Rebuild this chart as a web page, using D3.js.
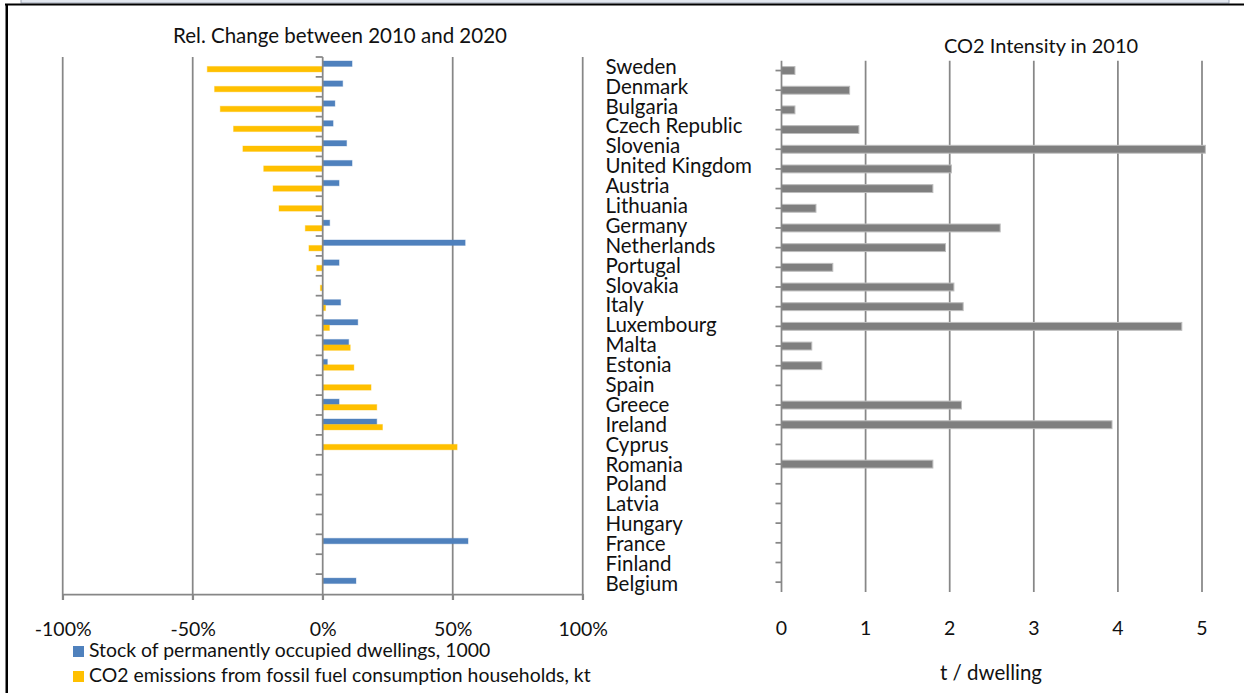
<!DOCTYPE html>
<html>
<head>
<meta charset="utf-8">
<script src="https://cdn.jsdelivr.net/npm/d3@7"></script>
<style>
  html, body { margin: 0; padding: 0; background: #fff; }
  svg { display: block; }
  text { font-family: Lato, "Open Sans", sans-serif; fill: #111; }
</style>
</head>
<body>
<svg id="chart" width="1244" height="693"></svg>
<script>
// Member states, in the order shown on both panels
const countries = [
  "Sweden", "Denmark", "Bulgaria", "Czech Republic", "Slovenia", "United Kingdom",
  "Austria", "Lithuania", "Germany", "Netherlands", "Portugal", "Slovakia", "Italy",
  "Luxembourg", "Malta", "Estonia", "Spain", "Greece", "Ireland", "Cyprus", "Romania",
  "Poland", "Latvia", "Hungary", "France", "Finland", "Belgium"
];

// Relative change 2010 -> 2020, in percent (null = no data)
const stockChange = [
  11.3, 7.7, 4.7, 4.0, 9.2, 11.3, 6.3, null, 2.7, 54.8, 6.3, null, 6.9,
  13.5, 10.0, 1.8, null, 6.3, 20.8, null, null, null, null, null, 55.9, null, 12.8
];
const co2Change = [
  -44.4, -41.6, -39.4, -34.3, -30.7, -22.7, -19.1, -16.8, -6.7, -5.3, -2.3, -0.9, 1.1,
  2.6, 10.6, 12.0, 18.6, 20.8, 23.0, 51.7, null, null, null, null, null, null, null
];

// CO2 intensity in 2010, t per dwelling (null = no data)
const intensity2010 = [
  0.16, 0.81, 0.16, 0.92, 5.04, 2.02, 1.80, 0.41, 2.60, 1.95, 0.61, 2.05, 2.16,
  4.76, 0.36, 0.48, null, 2.14, 3.93, null, 1.80, null, null, null, null, null, null
];

const changeTicks = [-100, -50, 0, 50, 100];
const intensityTicks = [0, 1, 2, 3, 4, 5];

const seriesNames = [
  "Stock of permanently occupied dwellings, 1000",
  "CO2 emissions from fossil fuel consumption households, kt"
];
const seriesColors = ["#4F81BD", "#FFC000"];
const gridColor = "#878787";
const barGray = "#7F7F7F";

const svg = d3.select("#chart");

// ---- frame ----
svg.append("rect").attr("x", 21).attr("y", -4).attr("width", 1208).attr("height", 7)
  .attr("fill", "#e2e7ef").attr("stroke", "#9aa3b3").attr("stroke-width", 1);
svg.append("line").attr("x1", 5).attr("x2", 1244).attr("y1", 4.5).attr("y2", 4.5)
  .attr("stroke", "#000").attr("stroke-width", 2);
svg.append("line").attr("x1", 6.75).attr("x2", 6.75).attr("y1", 4).attr("y2", 693)
  .attr("stroke", "#000").attr("stroke-width", 2.5);

// ---- left panel: relative change ----
const xL = d3.scaleLinear().domain([-100, 100]).range([62.7, 582.7]);
const yL = d3.scaleBand().domain(countries).range([57, 594]);
const sub = d3.scaleBand().domain([0, 1])
  .range([yL.bandwidth() * 0.2, yL.bandwidth() * 0.75]);

const left = svg.append("g");

left.selectAll("line.grid").data(changeTicks.filter(d => d !== 0)).join("line")
  .attr("class", "grid")
  .attr("x1", d => xL(d)).attr("x2", d => xL(d))
  .attr("y1", 57).attr("y2", 600)
  .attr("stroke", gridColor).attr("stroke-width", 1.75);

const rows = countries.map((c, i) => ({ c, vals: [stockChange[i], co2Change[i]] }));
rows.forEach(r => {
  r.vals.forEach((v, k) => {
    if (v == null) return;
    left.append("rect")
      .attr("x", Math.min(xL(0), xL(v)))
      .attr("width", Math.abs(xL(v) - xL(0)))
      .attr("y", yL(r.c) + sub(k))
      .attr("height", sub.bandwidth())
      .attr("fill", seriesColors[k])
      .attr("stroke", seriesColors[k]).attr("stroke-opacity", 0.35).attr("stroke-width", 1);
  });
});

// bottom value axis
const axB = left.append("g").attr("transform", "translate(0,594)")
  .call(d3.axisBottom(xL).tickValues(changeTicks).tickSize(6).tickSizeOuter(0)
    .tickFormat(d => d + "%"));
axB.select(".domain").attr("stroke", gridColor).attr("stroke-width", 1.75);
axB.selectAll(".tick line").attr("stroke", gridColor).attr("stroke-width", 1.75);
axB.selectAll(".tick text").attr("y", 42).attr("dy", 0)
  .style("font-family", "Lato").style("font-size", "19.5px").attr("fill", "#111");

// category axis at zero, ticks on band boundaries
left.append("line").attr("x1", xL(0)).attr("x2", xL(0)).attr("y1", 57).attr("y2", 600)
  .attr("stroke", gridColor).attr("stroke-width", 1.75);
left.selectAll("line.ctick").data(countries).join("line")
  .attr("class", "ctick")
  .attr("x1", xL(0) - 7).attr("x2", xL(0))
  .attr("y1", d => yL(d)).attr("y2", d => yL(d))
  .attr("stroke", gridColor).attr("stroke-width", 1.75);

left.append("text").attr("x", 340).attr("y", 42.7).attr("text-anchor", "middle")
  .style("font-size", "20.5px").text("Rel. Change between 2010 and 2020");

// legend
seriesNames.forEach((name, k) => {
  const y0 = 646 + k * 25;
  left.append("rect").attr("x", 73).attr("y", y0).attr("width", 11).attr("height", 11)
    .attr("fill", seriesColors[k]);
  left.append("text").attr("x", 89).attr("y", y0 + 10.7)
    .style("font-size", "19.4px").text(name);
});

// country names
svg.append("g").selectAll("text").data(countries).join("text")
  .attr("x", 605.5)
  .attr("y", d => yL(d) + yL.bandwidth() / 2 + 6.8)
  .style("font-size", "20.5px")
  .text(d => d);

// ---- right panel: CO2 intensity ----
const xR = d3.scaleLinear().domain([0, 5]).range([781.5, 1202]);
const yR = d3.scaleBand().domain(countries).range([60.7, 592])
  .paddingInner(0.6).paddingOuter(0.3);

const right = svg.append("g");

right.selectAll("line.grid").data(intensityTicks.filter(d => d > 0)).join("line")
  .attr("class", "grid")
  .attr("x1", d => xR(d)).attr("x2", d => xR(d))
  .attr("y1", 60.7).attr("y2", 592)
  .attr("stroke", gridColor).attr("stroke-width", 1.75);

right.selectAll("rect.bar")
  .data(countries.map((c, i) => ({ c, v: intensity2010[i] })).filter(d => d.v != null))
  .join("rect")
  .attr("class", "bar")
  .attr("x", xR(0))
  .attr("width", d => xR(d.v) - xR(0))
  .attr("y", d => yR(d.c))
  .attr("height", yR.bandwidth())
  .attr("fill", barGray)
  .attr("stroke", "#bdbdbd").attr("stroke-width", 1);

// category axis with ticks through each category
right.append("line").attr("x1", xR(0)).attr("x2", xR(0)).attr("y1", 60.7).attr("y2", 592)
  .attr("stroke", gridColor).attr("stroke-width", 1.75);
right.selectAll("line.ctick").data(countries).join("line")
  .attr("class", "ctick")
  .attr("x1", xR(0) - 6).attr("x2", xR(0))
  .attr("y1", d => yR(d) + yR.bandwidth() / 2).attr("y2", d => yR(d) + yR.bandwidth() / 2)
  .attr("stroke", gridColor).attr("stroke-width", 1.75);

// value labels (no axis line drawn)
right.selectAll("text.vt").data(intensityTicks).join("text")
  .attr("class", "vt")
  .attr("x", d => xR(d)).attr("y", 635).attr("text-anchor", "middle")
  .style("font-size", "19.5px")
  .text(d => d);

right.append("text").attr("x", 991).attr("y", 680).attr("text-anchor", "middle")
  .style("font-size", "20.5px").text("t / dwelling");

right.append("text").attr("x", 1041).attr("y", 53).attr("text-anchor", "middle")
  .style("font-size", "20px").text("CO2 Intensity in 2010");
</script>
</body>
</html>
